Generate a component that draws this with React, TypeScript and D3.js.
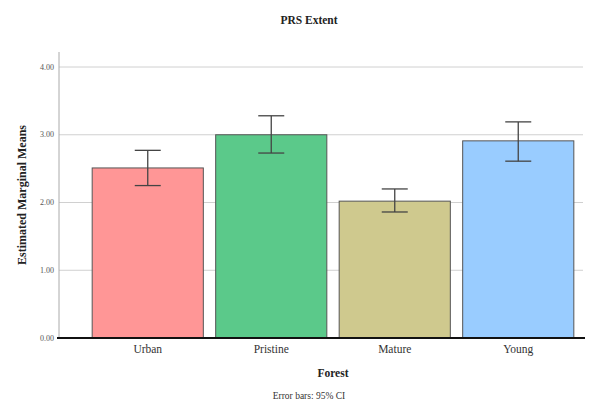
import React from "react";
import * as d3 from "d3";

const categories = ["Urban", "Pristine", "Mature", "Young"];
const means = [2.51, 3.0, 2.02, 2.91];
const ciLow = [2.25, 2.73, 1.86, 2.61];
const ciHigh = [2.77, 3.28, 2.2, 3.19];
const colors = ["#ff9696", "#5bc98a", "#cfc98e", "#99ccff"];
const yTicks = [0, 1, 2, 3, 4];

export default function App() {
  const W = 597, H = 402;
  const left = 59, right = 583, top = 52, bottom = 338;
  const x = d3.scaleBand<string>().domain(categories).range([86, 580]).paddingInner(0.1).paddingOuter(0.05);
  const y = d3.scaleLinear().domain([0, 4]).range([bottom, 67]);
  const font = "'Liberation Serif', 'Times New Roman', serif";
  const capW = 26;
  return (
    <svg width={W} height={H} style={{ position: "absolute", left: 0, top: 0 }} fontFamily={font}>
      <rect width={W} height={H} fill="#fff" />
      <text x={309} y={24} textAnchor="middle" fontSize={11.5} fontWeight="bold" fill="#222">PRS Extent</text>
      {yTicks.map((t) => (
        <g key={t}>
          {t > 0 && <line x1={left} x2={right} y1={y(t)} y2={y(t)} stroke="#d0d0d0" strokeWidth={1} />}
          <text x={54} y={y(t) + 2.5} textAnchor="end" fontSize={8} fill="#555">{t.toFixed(2)}</text>
        </g>
      ))}
      <line x1={left} x2={left} y1={top} y2={bottom} stroke="#aaa" strokeWidth={1} />
      {categories.map((c, i) => {
        const bx = x(c)!;
        const bw = x.bandwidth();
        const cx = bx + bw / 2;
        return (
          <g key={c}>
            <rect x={bx} y={y(means[i])} width={bw} height={bottom - y(means[i])} fill={colors[i]} stroke="#555" strokeWidth={1} />
            <line x1={cx} x2={cx} y1={y(ciLow[i])} y2={y(ciHigh[i])} stroke="#444" strokeWidth={1.3} />
            <line x1={cx - capW / 2} x2={cx + capW / 2} y1={y(ciHigh[i])} y2={y(ciHigh[i])} stroke="#444" strokeWidth={1.3} />
            <line x1={cx - capW / 2} x2={cx + capW / 2} y1={y(ciLow[i])} y2={y(ciLow[i])} stroke="#444" strokeWidth={1.3} />
            <text x={cx} y={353} textAnchor="middle" fontSize={11.5} fill="#333">{c}</text>
          </g>
        );
      })}
      <line x1={left - 2} x2={right + 2} y1={bottom} y2={bottom} stroke="#111" strokeWidth={2} />
      <text x={333} y={377} textAnchor="middle" fontSize={11.5} fontWeight="bold" fill="#222">Forest</text>
      <text x={309} y={399} textAnchor="middle" fontSize={9.5} fill="#333">Error bars: 95% CI</text>
      <text transform={`translate(26,195) rotate(-90)`} textAnchor="middle" fontSize={12} fontWeight="bold" fill="#222">Estimated Marginal Means</text>
    </svg>
  );
}
